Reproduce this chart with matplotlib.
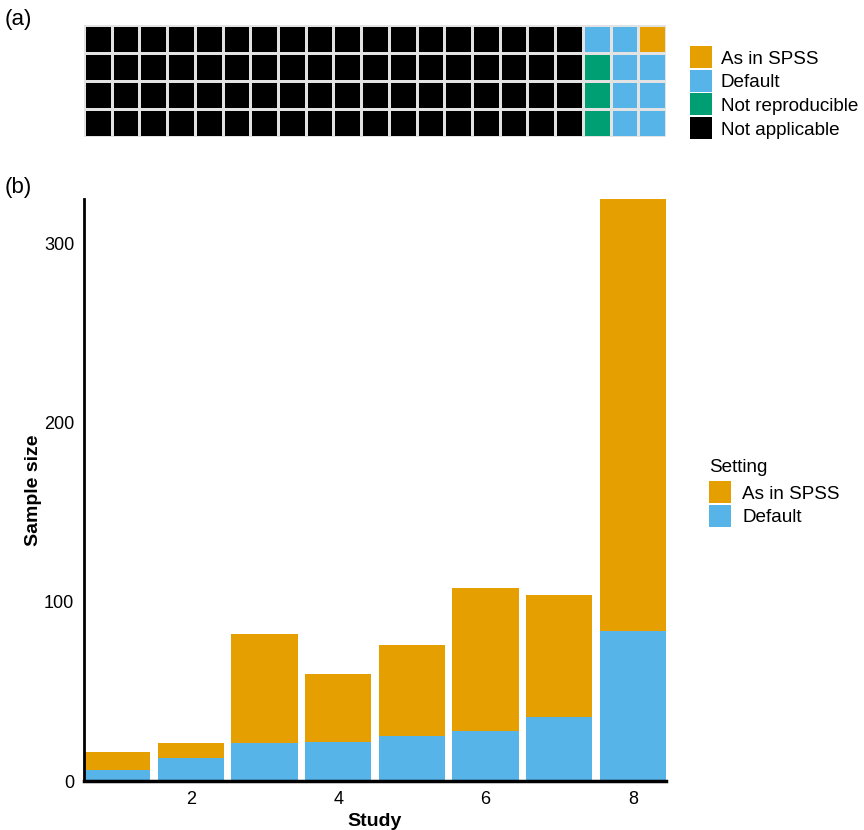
import numpy as np
import matplotlib
matplotlib.use("Agg")
import matplotlib.pyplot as plt
from matplotlib.patches import Rectangle
from matplotlib.colors import ListedColormap

plt.rcParams['font.family'] = ['Liberation Sans', 'DejaVu Sans']

# panel (a) waffle data
waffle_labels = ["As in SPSS", "Default", "Not reproducible", "Not applicable"]
waffle_counts = [1, 8, 3, 72]
waffle_colors = ["#E69F00", "#56B4E9", "#009E73", "#000000"]
n_rows = 4
n_cols = 21

# panel (b) stacked bars
studies = [1, 2, 3, 4, 5, 6, 7, 8]
default_n = [6, 13, 21, 22, 25, 28, 36, 84]
spss_n = [10, 8, 61, 38, 51, 80, 68, 241]
setting_labels = ["As in SPSS", "Default"]
bar_colors = {"As in SPSS": "#E69F00", "Default": "#56B4E9"}

W, H = 864, 830
fig = plt.figure(figsize=(W/100, H/100), dpi=100)

def fx(px):
    return px / W

def fy(py):
    return 1 - py / H

def legend_box(x, y, colors, labels, size=22, pitch=23.5, text_dx=8, fs=13.6):
    # simple key of squares with labels, y = top of the first square (pixels)
    for i, (c, l) in enumerate(zip(colors, labels)):
        top = y + i * pitch
        fig.patches.append(Rectangle((fx(x), fy(top + size)), size / W, size / H,
                                     transform=fig.transFigure, facecolor=c, edgecolor="none"))
        fig.text(fx(x + size + text_dx), fy(top + size / 2), l, fontsize=fs,
                 ha="left", va="center_baseline")

# ---- (a) waffle
seq = []
for i, c in enumerate(waffle_counts):
    seq += [i] * c
grid = np.zeros((n_rows, n_cols), dtype=int)
k = 0
for col in range(n_cols - 1, -1, -1):   # fill from the right, top to bottom
    for row in range(n_rows):
        grid[row, col] = seq[k]
        k += 1

axa = fig.add_axes([fx(84), fy(137), 582/W, 112/H])
axa.pcolormesh(np.arange(n_cols+1), np.arange(n_rows+1), grid,
               cmap=ListedColormap(waffle_colors), vmin=-0.5, vmax=3.5,
               edgecolors="#e3e3e3", linewidth=1.0)
axa.set_xlim(0, n_cols)
axa.set_ylim(n_rows, 0)
axa.axis("off")
legend_box(690, 46, waffle_colors, waffle_labels, size=22, pitch=23.7, text_dx=9)
fig.text(fx(5), fy(19), "(a)", fontsize=16, va="center", ha="left")

# ---- (b) stacked bars
axb = fig.add_axes([fx(84), fy(781), 582/W, 582/H])
axb.bar(studies, default_n, width=0.9, color=bar_colors["Default"], label="Default")
axb.bar(studies, spss_n, width=0.9, bottom=default_n, color=bar_colors["As in SPSS"], label="As in SPSS")
axb.set_xlim(0.55, 8.45)
axb.set_ylim(0, 325)
axb.set_xticks([2, 4, 6, 8])
axb.set_yticks([0, 100, 200, 300])
axb.tick_params(length=0, labelsize=13, pad=7)
for s in ["top", "right"]:
    axb.spines[s].set_visible(False)
axb.spines["left"].set_linewidth(2)
axb.spines["bottom"].set_linewidth(2.5)
axb.set_xlabel("Study", fontsize=14, fontweight="bold", labelpad=4)
fig.text(fx(33), fy(490), "Sample size", fontsize=14, fontweight="bold",
         rotation=90, ha="center", va="center")
fig.text(fx(709), fy(465), "Setting", fontsize=13.6, ha="left", va="center_baseline")
legend_box(709, 481.5, [bar_colors[l] for l in setting_labels], setting_labels,
           size=22, pitch=23.5, text_dx=11)
fig.text(fx(5), fy(187), "(b)", fontsize=16, va="center", ha="left")

fig.savefig("out.png", dpi=100)
